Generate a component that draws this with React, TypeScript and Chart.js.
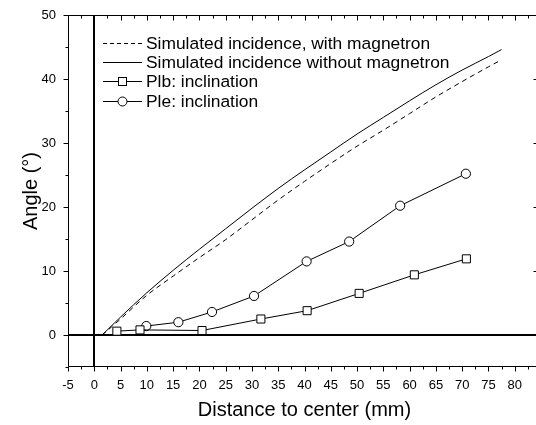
import React, { useEffect, useRef } from "react";
import { Chart, registerables } from "chart.js";

Chart.register(...registerables);

// ---- data ----
const simX = [1.5, 5, 10, 15, 20, 25, 30, 35, 40, 45, 50, 55, 60, 65, 70, 75, 77.5];
const simWithMagnetron = [0, 2.5, 6.2, 9.2, 12.1, 14.9, 18.0, 21.1, 24.0, 26.8, 29.5, 32.0, 34.6, 37.2, 39.6, 41.9, 43.0];
const simWithoutMagnetron = [0, 2.8, 6.6, 10.1, 13.4, 16.6, 19.8, 22.9, 25.8, 28.6, 31.4, 34.0, 36.6, 39.1, 41.4, 43.5, 44.6];

const plbX = [4.3, 8.7, 20.5, 31.7, 40.5, 50.4, 60.9, 70.8];
const plbY = [0.6, 0.8, 0.7, 2.5, 3.8, 6.5, 9.4, 11.9];

const pleX = [9.9, 16.0, 22.4, 30.4, 40.4, 48.5, 58.2, 70.7];
const pleY = [1.4, 2.0, 3.6, 6.1, 11.5, 14.6, 20.2, 25.2];

const xTickLabels = ["-5", "0", "5", "10", "15", "20", "25", "30", "35", "40", "45", "50", "55", "60", "65", "70", "75", "80"];
const yTickLabels = ["0", "10", "20", "30", "40", "50"];

const legendLabels = [
  "Simulated incidence, with magnetron",
  "Simulated incidence without magnetron",
  "Plb: inclination",
  "Ple: inclination",
];

const xTitle = "Distance to center (mm)";
const yTitle = "Angle (\u00b0)";

const FONT = '"Liberation Sans", Arial, Helvetica, sans-serif';

const toPoints = (xs: number[], ys: number[]) => xs.map((x, i) => ({ x, y: ys[i] }));

const decorPlugin = {
  id: "decor",
  beforeDatasetsDraw(chart: any) {
    const { ctx, chartArea: a, scales } = chart;
    const x0 = Math.round(scales.x.getPixelForValue(0));
    const y0 = Math.round(scales.y.getPixelForValue(0));
    ctx.save();
    ctx.strokeStyle = "#000";
    ctx.lineWidth = 2;
    ctx.beginPath();
    ctx.moveTo(x0, a.top);
    ctx.lineTo(x0, a.bottom);
    ctx.moveTo(a.left, y0);
    ctx.lineTo(a.right, y0);
    ctx.stroke();
    ctx.restore();
  },
  afterDraw(chart: any) {
    const { ctx, chartArea: a, scales } = chart;
    const xs = scales.x;
    const ys = scales.y;
    ctx.save();
    ctx.strokeStyle = "#000";
    ctx.lineWidth = 1;
    // frame
    const L = Math.round(a.left) + 0.5;
    const R = Math.round(a.right) - 0.5;
    const T = Math.round(a.top) + 0.5;
    const B = Math.round(a.bottom) - 0.5;
    ctx.beginPath();
    ctx.moveTo(L, T);
    ctx.lineTo(R, T);
    ctx.lineTo(R, B);
    ctx.lineTo(L, B);
    ctx.closePath();
    ctx.stroke();
    // x ticks
    ctx.beginPath();
    for (let v = xs.min; v <= xs.max + 1e-6; v += 2.5) {
      const px = Math.round(xs.getPixelForValue(v)) + 0.5;
      const major = Math.abs(v % 5) < 1e-6;
      const len = major ? 5 : 3;
      ctx.moveTo(px, B);
      ctx.lineTo(px, B + len);
      ctx.moveTo(px, T);
      ctx.lineTo(px, T + len);
    }
    // y ticks
    for (let v = ys.min; v <= ys.max + 1e-6; v += 5) {
      const py = Math.round(ys.getPixelForValue(v)) + 0.5;
      const major = Math.abs(v % 10) < 1e-6;
      ctx.moveTo(L, py);
      ctx.lineTo(L - (major ? 5 : 3), py);
      ctx.moveTo(R, py);
      ctx.lineTo(R - (major ? 7 : 4), py);
    }
    ctx.stroke();

    // legend
    const lx0 = a.left + 35;
    const lx1 = a.left + 74;
    const mx = (lx0 + lx1) / 2;
    const tx = a.left + 78;
    ctx.font = `17.4px ${FONT}`;
    ctx.fillStyle = "#000";
    ctx.textBaseline = "middle";
    ctx.textAlign = "left";
    legendLabels.forEach((label, i) => {
      const yy = Math.round(a.top + 28 + i * 19.2) + 0.5;
      ctx.setLineDash(i === 0 ? [4, 3] : []);
      ctx.beginPath();
      ctx.moveTo(lx0, yy);
      ctx.lineTo(lx1, yy);
      ctx.stroke();
      ctx.setLineDash([]);
      if (i === 2) {
        ctx.fillStyle = "#fff";
        ctx.fillRect(mx - 4, yy - 4, 8, 8);
        ctx.strokeRect(mx - 4, yy - 4, 8, 8);
      } else if (i === 3) {
        ctx.fillStyle = "#fff";
        ctx.beginPath();
        ctx.arc(mx, yy, 4.5, 0, Math.PI * 2);
        ctx.fill();
        ctx.stroke();
      }
      ctx.fillStyle = "#000";
      ctx.fillText(label, tx, yy + 0.5);
    });
    ctx.restore();
  },
};

export default function App() {
  const ref = useRef<HTMLCanvasElement | null>(null);

  useEffect(() => {
    if (!ref.current) return;
    const chart = new Chart(ref.current, {
      type: "scatter",
      data: {
        datasets: [
          {
            label: legendLabels[0],
            data: toPoints(simX, simWithMagnetron),
            showLine: true,
            borderColor: "#000",
            borderWidth: 1,
            borderDash: [5, 4],
            pointRadius: 0,
            cubicInterpolationMode: "monotone",
          },
          {
            label: legendLabels[1],
            data: toPoints(simX, simWithoutMagnetron),
            showLine: true,
            borderColor: "#000",
            borderWidth: 1,
            pointRadius: 0,
            cubicInterpolationMode: "monotone",
          },
          {
            label: legendLabels[2],
            data: toPoints(plbX, plbY),
            showLine: true,
            borderColor: "#000",
            borderWidth: 1,
            pointStyle: "rect",
            pointRadius: 5.7,
            pointBackgroundColor: "#fff",
            pointBorderColor: "#000",
            pointBorderWidth: 1,
          },
          {
            label: legendLabels[3],
            data: toPoints(pleX, pleY),
            showLine: true,
            borderColor: "#000",
            borderWidth: 1,
            pointStyle: "circle",
            pointRadius: 4.6,
            pointBackgroundColor: "#fff",
            pointBorderColor: "#000",
            pointBorderWidth: 1,
          },
        ],
      },
      options: {
        responsive: false,
        animation: false,
        layout: { padding: { left: 0, right: 19, top: 15, bottom: 0 } },
        plugins: {
          legend: { display: false },
          tooltip: { enabled: false },
        },
        scales: {
          x: {
            type: "linear",
            min: -5,
            max: 85,
            grid: { display: false, drawTicks: false },
            border: { display: false },
            ticks: {
              stepSize: 5,
              autoSkip: false,
              maxRotation: 0,
              padding: 11,
              color: "#000",
              font: { family: FONT, size: 13 },
              callback: (v: any) => (xTickLabels.includes(String(v)) ? String(v) : ""),
            },
            title: {
              display: true,
              text: xTitle,
              color: "#000",
              font: { family: FONT, size: 20 },
              padding: { top: 0, bottom: 3 },
            },
            afterFit: (s: any) => {
              s.height = 58;
              s.paddingLeft = 0;
              s.paddingRight = 0;
            },
          },
          y: {
            type: "linear",
            min: -5,
            max: 50,
            grid: { display: false, drawTicks: false },
            border: { display: false },
            ticks: {
              stepSize: 5,
              autoSkip: false,
              padding: 12,
              color: "#000",
              font: { family: FONT, size: 13 },
              callback: (v: any) => (yTickLabels.includes(String(v)) ? String(v) : ""),
            },
            title: {
              display: true,
              text: yTitle,
              color: "#000",
              font: { family: FONT, size: 20 },
              padding: { top: 19, bottom: 0 },
            },
            afterFit: (s: any) => {
              s.width = 68;
              s.paddingTop = 0;
              s.paddingBottom = 0;
            },
          },
        },
      },
      plugins: [decorPlugin],
    });
    return () => chart.destroy();
  }, []);

  return (
    <div
      style={{
        position: "fixed",
        left: 0,
        top: 0,
        width: 536,
        height: 425,
        overflow: "hidden",
        background: "#fff",
      }}
    >
      <canvas ref={ref} width={560} height={425} style={{ display: "block" }} />
    </div>
  );
}
